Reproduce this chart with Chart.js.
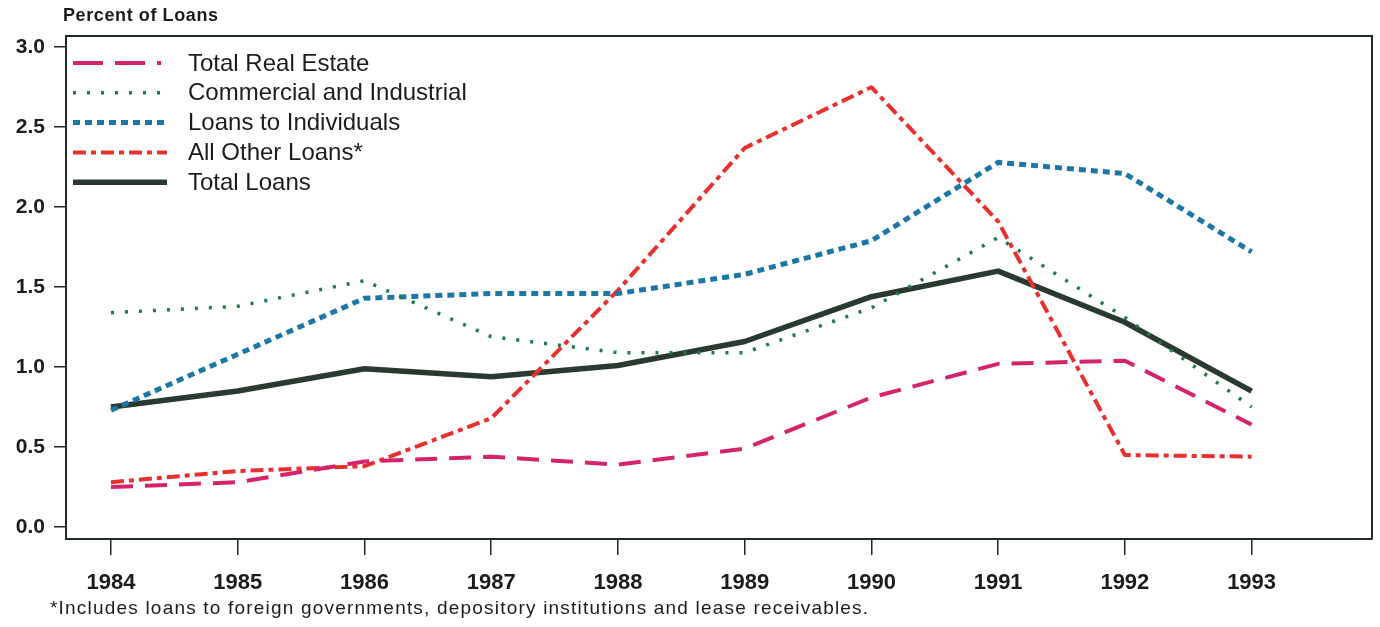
<!DOCTYPE html>
<html lang="en">
<head>
    <meta charset="UTF-8">
    <title>Percent of Loans</title>
    <script src="https://cdn.jsdelivr.net/npm/chart.js"></script>
    <style>
        html, body { margin: 0; padding: 0; background: #fff; }
        #box { width: 1380px; height: 627px; }
    </style>
</head>
<body>
<div id="box">
    <canvas id="grafico" width="1380" height="627"></canvas>
</div>

<script>
    // dados
    const anos = [1984, 1985, 1986, 1987, 1988, 1989, 1990, 1991, 1992, 1993];
    const ticksY = [0, 0.5, 1.0, 1.5, 2.0, 2.5, 3.0];

    const nomes = ['Total Real Estate', 'Commercial and Industrial', 'Loans to Individuals', 'All Other Loans*', 'Total Loans'];

    const imobiliario = [0.25, 0.28, 0.41, 0.44, 0.39, 0.49, 0.81, 1.02, 1.04, 0.64];
    const comercial = [1.34, 1.38, 1.54, 1.19, 1.09, 1.09, 1.37, 1.81, 1.31, 0.75];
    const individuos = [0.73, 1.08, 1.43, 1.46, 1.46, 1.58, 1.79, 2.28, 2.21, 1.72];
    const outros = [0.28, 0.35, 0.38, 0.68, 1.48, 2.37, 2.75, 1.91, 0.45, 0.44];
    const totais = [0.75, 0.85, 0.99, 0.94, 1.01, 1.16, 1.44, 1.60, 1.28, 0.85];

    const fonte = '"Liberation Sans", Arial, sans-serif';
    const escuro = '#1f2a22';
    const corTexto = '#1c1c1c';

    function pontos(valores) {
        return anos.map(function (a, i) { return { x: a, y: valores[i] }; });
    }

    // legenda dentro da area do grafico + textos extras
    const extras = {
        id: 'extras',
        afterDraw(chart) {
            const ctx = chart.ctx;
            const area = chart.chartArea;

            // moldura
            ctx.save();
            ctx.strokeStyle = escuro;
            ctx.lineWidth = 2;
            ctx.beginPath();
            ctx.moveTo(area.left, area.top);
            ctx.lineTo(area.right, area.top);
            ctx.lineTo(area.right, area.bottom);
            ctx.stroke();
            ctx.restore();

            // legenda
            chart.data.datasets.forEach(function (ds, i) {
                const y = area.top + 27 + i * 29.8;
                ctx.save();
                ctx.strokeStyle = ds.borderColor;
                ctx.lineWidth = ds.borderWidth;
                ctx.setLineDash(ds.legendDash || ds.borderDash || []);
                ctx.beginPath();
                ctx.moveTo(area.left + 7, y);
                ctx.lineTo(area.left + 101, y);
                ctx.stroke();
                ctx.restore();

                ctx.save();
                ctx.fillStyle = corTexto;
                ctx.font = '24px ' + fonte;
                ctx.textBaseline = 'middle';
                ctx.fillText(ds.label, area.left + 122, y + 1);
                ctx.restore();
            });

            ctx.save();
            ctx.fillStyle = corTexto;
            ctx.font = 'bold 18px ' + fonte;
            ctx.letterSpacing = '0.6px';
            ctx.textBaseline = 'middle';
            ctx.fillText('Percent of Loans', 63, 16);
            ctx.font = '19px ' + fonte;
            ctx.letterSpacing = '1.2px';
            ctx.fillText('*Includes loans to foreign governments, depository institutions and lease receivables.', 50, 609);
            ctx.restore();
        }
    };

    const dados = {
        datasets: [{
            label: nomes[0],
            data: pontos(imobiliario),
            borderColor: '#d4246c',
            borderWidth: 4,
            borderDash: [22, 12],
            legendDash: [30, 12, 30, 12, 4, 100]
        },
        {
            label: nomes[1],
            data: pontos(comercial),
            borderColor: '#1f7a45',
            borderWidth: 3.5,
            borderDash: [3, 11],
            legendDash: [3, 11]
        },
        {
            label: nomes[2],
            data: pontos(individuos),
            borderColor: '#1b78a6',
            borderWidth: 5,
            borderDash: [7, 5]
        },
        {
            label: nomes[3],
            data: pontos(outros),
            borderColor: '#e8302e',
            borderWidth: 4,
            borderDash: [13, 5, 5, 5]
        },
        {
            label: nomes[4],
            data: pontos(totais),
            borderColor: '#2b3a31',
            borderWidth: 5.5,
            borderDash: []
        }]
    };

    const config = {
        type: 'line',
        data: dados,
        plugins: [extras],
        options: {
            responsive: false,
            animation: false,
            layout: { padding: { top: 36, right: 8, left: 0, bottom: 0 } },
            elements: {
                point: { radius: 0 },
                line: { tension: 0, borderCapStyle: 'butt', borderJoinStyle: 'round' }
            },
            plugins: {
                legend: { display: false },
                tooltip: { enabled: false }
            },
            scales: {
                x: {
                    type: 'linear',
                    min: 1983.645,
                    max: 1993.95,
                    afterBuildTicks: function (scale) {
                        scale.ticks = anos.map(function (a) { return { value: a }; });
                    },
                    afterFit: function (scale) { scale.height = 88; },
                    border: { display: true, color: escuro, width: 2 },
                    grid: { drawOnChartArea: false, drawTicks: true, tickLength: 16, color: escuro, lineWidth: 1.5 },
                    ticks: {
                        autoSkip: false,
                        maxRotation: 0,
                        padding: 15,
                        color: corTexto,
                        font: { family: fonte, size: 22, weight: 'bold' },
                        callback: function (v) { return String(v); }
                    }
                },
                y: {
                    min: -0.075,
                    max: 3.07,
                    afterBuildTicks: function (scale) {
                        scale.ticks = ticksY.map(function (v) { return { value: v }; });
                    },
                    afterFit: function (scale) { scale.width = 66; },
                    border: { display: true, color: escuro, width: 2 },
                    grid: { drawOnChartArea: false, drawTicks: true, tickLength: 12, color: escuro, lineWidth: 1.5 },
                    ticks: {
                        padding: 9,
                        color: corTexto,
                        font: { family: fonte, size: 21, weight: 'bold' },
                        callback: function (v) { return v.toFixed(1); }
                    }
                }
            }
        }
    };

    let myChart = new Chart(document.getElementById('grafico'), config);
</script>
</body>
</html>
